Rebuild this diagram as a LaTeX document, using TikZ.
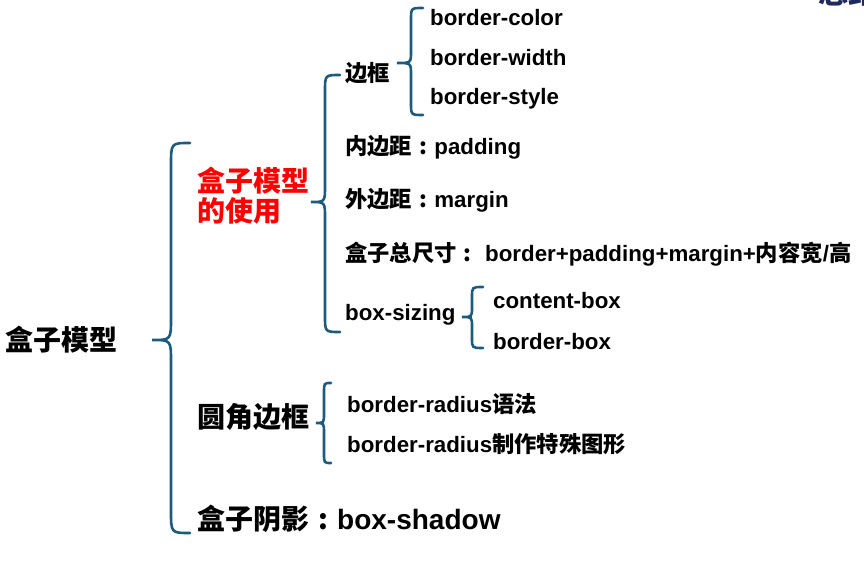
\documentclass[tikz,border=0pt]{standalone}
\usepackage{fontspec}
\setmainfont{Liberation Sans}
\newfontfamily\cjk{Noto Sans CJK SC}
\definecolor{bracecol}{HTML}{1D5B7D}
\definecolor{redtxt}{HTML}{FF0000}
\definecolor{navy}{HTML}{1F2A5C}
\newcommand{\mybrace}[7]{%
  \draw[bracecol, line width=2.6pt, line cap=round]
    (#2,#4) .. controls (#1,#4) and (#1,#4) .. (#1,#4+#7)
    -- (#1,#5-#7) .. controls (#1,#5) and (#1,#5) .. (#3,#5)
    .. controls (#1,#5) and (#1,#5) .. (#1,#5+#7)
    -- (#1,#6-#7) .. controls (#1,#6) and (#1,#6) .. (#2,#6);}
\newcommand{\zcolon}{\makebox[1em][c]{\cjk :}}
\begin{document}
\begin{tikzpicture}[x=1pt,y=-1pt,
  big/.style={anchor=west, font=\fontsize{28}{33}\selectfont\bfseries, inner sep=0pt},
  mid/.style={anchor=west, font=\fontsize{22.3}{26}\selectfont\bfseries, inner sep=0pt},
  redt/.style={big, text=redtxt, align=left}]
\useasboundingbox (0,0) rectangle (864,562);
% braces
\mybrace{171}{190}{152}{143}{340}{533}{22}
\mybrace{325}{340}{311}{75}{202}{332}{16}
\mybrace{411}{423}{397}{8}{63}{115}{12}
\mybrace{472}{483}{462}{287}{317}{348}{10}
\mybrace{324}{331}{316}{383}{423}{463}{10}
% texts
\node[big] (root) at (5,340) {\cjk 盒子模型};
\node[redt] (use) at (197,196) {\cjk 盒子模型\\[-3pt]\cjk 的使用};
\node[big] (radius) at (197,417) {\cjk 圆角边框};
\node[big] (shadow) at (197,519) {{\cjk 盒子阴影}\zcolon box-shadow};
\node[mid] (border) at (345,73) {\cjk 边框};
\node[mid] (bc) at (430,18) {border-color};
\node[mid] (bw) at (430,58) {border-width};
\node[mid] (bs) at (430,99) {border-style};
\node[mid] (pad) at (345,147) {{\cjk 内边距}\zcolon padding};
\node[mid] (mar) at (345,200) {{\cjk 外边距}\zcolon margin};
\node[mid] (tot) at (345,254) {{\cjk 盒子总尺寸}\zcolon\ border+padding+margin+{\cjk 内容宽}/{\cjk 高}};
\node[mid] (bsz) at (345,315) {box-sizing};
\node[mid] (cb) at (493,301) {content-box};
\node[mid] (bb) at (493,342) {border-box};
\node[mid] (r1) at (347,404) {border-radius{\cjk 语法}};
\node[mid] (r2) at (347,444) {border-radius{\cjk 制作特殊图形}};
\node[anchor=west, font=\fontsize{30}{34}\selectfont\bfseries, text=navy, inner sep=0pt] (frag) at (818,-8) {\cjk 总结};
\end{tikzpicture}
\end{document}
